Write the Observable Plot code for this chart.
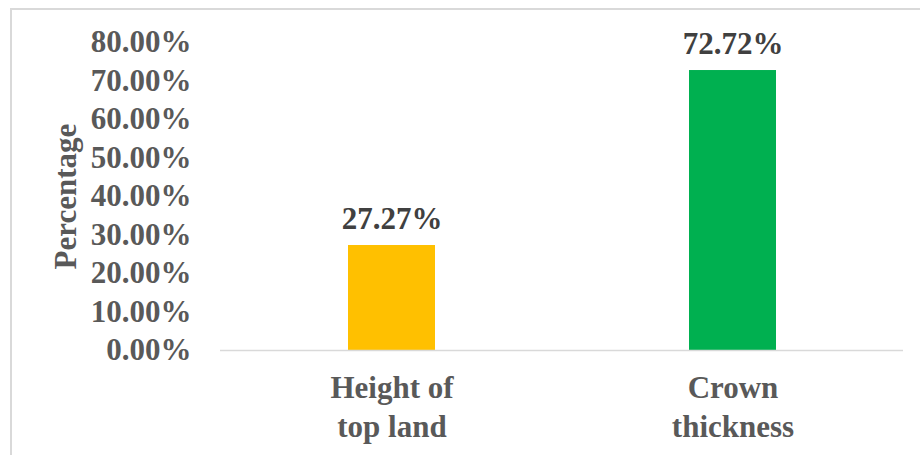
<!DOCTYPE html>
<html>
<head>
<meta charset="utf-8">
<script src="https://cdn.jsdelivr.net/npm/d3@7"></script>
<script src="https://cdn.jsdelivr.net/npm/@observablehq/plot@0.6"></script>
<style>
  html, body { margin: 0; padding: 0; background: #fff; overflow: hidden; }
  #wrap { position: relative; width: 920px; height: 455px; }
  #frame { position: absolute; left: 10px; top: 8px; width: 930px; height: 470px;
           border-top: 2px solid #d9d9d9; border-left: 2px solid #d9d9d9; box-sizing: border-box; }
  #chart { position: absolute; left: 0; top: 0; }
</style>
</head>
<body>
<div id="wrap"><div id="frame"></div><div id="chart"></div></div>
<script>
const categories = ["Height of top land", "Crown thickness"];
const axisLabels = ["Height of\ntop land", "Crown\nthickness"];
const values = [0.2727, 0.7272];
const barColors = ["#FFC000", "#00B050"];
const yTicks = [0, 0.1, 0.2, 0.3, 0.4, 0.5, 0.6, 0.7, 0.8];

const data = categories.map((c, i) => ({cat: c, value: values[i], label: axisLabels[i]}));
const fmt = d3.format(".2%");
const font = "Liberation Serif";

const chart = Plot.plot({
  width: 920,
  height: 455,
  marginLeft: 220,
  marginRight: 17,
  marginTop: 42,
  marginBottom: 105,
  style: {fontFamily: font, fontWeight: "bold", background: "transparent", overflow: "visible"},
  x: {type: "band", domain: categories, paddingInner: 0.745, paddingOuter: 0.3725, axis: null},
  y: {domain: [0, 0.8], axis: null},
  color: {domain: categories, range: barColors},
  marks: [
    Plot.barY(data, {x: "cat", y: "value", fill: "cat"}),
    Plot.ruleY([0], {stroke: "#d9d9d9", strokeWidth: 1.5}),
    Plot.axisY(yTicks, {tickSize: 0, tickPadding: 29, tickFormat: fmt, fontSize: 31, fill: "#595959", fontFamily: font, fontWeight: "bold", label: null}),
    Plot.axisX(categories, {tickSize: 0, tickPadding: 20, tickFormat: (d) => axisLabels[categories.indexOf(d)], fontSize: 31, lineHeight: 1.25, fill: "#595959", fontFamily: font, fontWeight: "bold", label: null}),
    Plot.text(data, {x: "cat", y: "value", text: d => fmt(d.value), dy: -17, lineAnchor: "bottom", fontSize: 31, fill: "#404040", fontFamily: font, fontWeight: "bold"}),
    Plot.text(["Percentage"], {frameAnchor: "left", textAnchor: "middle", dx: -154, dy: 0, rotate: -90, fontSize: 31, fill: "#595959", fontFamily: font, fontWeight: "bold"})
  ]
});
document.getElementById("chart").appendChild(chart);
</script>
</body>
</html>
